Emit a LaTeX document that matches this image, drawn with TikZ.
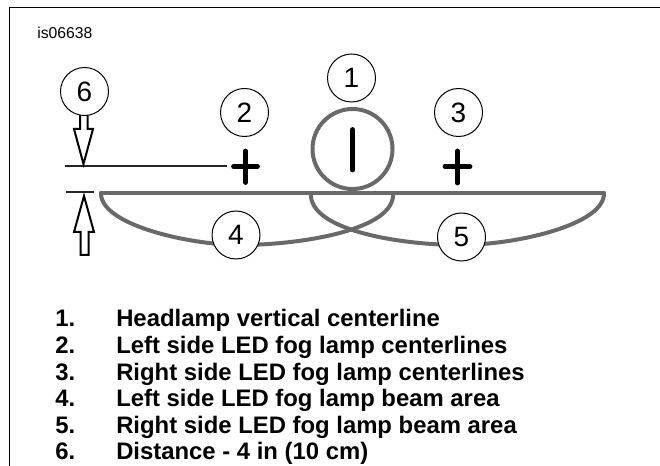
\documentclass[tikz,border=0pt]{standalone}
\usepackage{fontspec}
\setmainfont{Liberation Sans}
\definecolor{beam}{RGB}{105,105,105}
\tikzset{
 callout/.style={circle,draw=black,line width=0.75pt,fill=white,minimum size=36pt,inner sep=0pt,font=\fontsize{21}{24}\selectfont},
 beamline/.style={draw=beam,line width=3pt,line join=round,line cap=round},
 markline/.style={draw=black,line width=3.6pt,line cap=round},
 thinrule/.style={draw=black!85,line width=1.1pt},
 hollowarrow/.style={draw=black,line width=1.5pt,fill=white,line join=miter},
 legendtext/.style={anchor=base west,inner sep=0pt,font=\bfseries\fontsize{17.9}{20}\selectfont},
 figid/.style={anchor=base west,inner sep=0pt,font=\fontsize{11.8}{14}\selectfont}
}
\begin{document}
\begin{tikzpicture}[x=0.75pt,y=-0.75pt]
\useasboundingbox (0,0) rectangle (660,466);
\coordinate (bl) at (9.5,466); \coordinate (tl) at (9.5,7.5); \coordinate (tr) at (660,7.5);
\draw[black,line width=0.9pt] (bl) -- (tl) -- (tr);
\node[figid] (isn) at (37,39) {is06638};
% beam areas
\coordinate (beamL) at (101,193); \coordinate (beamR) at (604,193);
\coordinate (beamLi) at (393,193); \coordinate (beamRi) at (311,193);
\draw[beamline] (beamL) .. controls (100,225) and (190,245) .. (240,245) .. controls (300,245) and (396,230) .. (beamLi);
\draw[beamline] (beamR) .. controls (605,225) and (515,245) .. (460,245) .. controls (400,245) and (308,230) .. (beamRi);
\draw[beamline] (beamL) -- (beamR);
% headlamp
\node[circle,draw=beam,line width=3pt,minimum size=60pt,inner sep=0pt] (lamp) at (352.5,149) {};
\coordinate (vt) at (352.7,129.5); \coordinate (vb) at (352.7,170);
\draw[markline] (vt) -- (vb);
% plus marks
\coordinate (p2t) at (245.5,151); \coordinate (p2b) at (245.5,182.5);
\coordinate (p2l) at (233.5,166.5); \coordinate (p2r) at (257.5,166.5);
\draw[markline] (p2t) -- (p2b) (p2l) -- (p2r);
\coordinate (p3t) at (457.5,151); \coordinate (p3b) at (457.5,183);
\coordinate (p3l) at (445,166.5); \coordinate (p3r) at (470,166.5);
\draw[markline] (p3t) -- (p3b) (p3l) -- (p3r);
% dimension
\coordinate (r1a) at (65,166); \coordinate (r1b) at (227,166);
\coordinate (r2a) at (66,192); \coordinate (r2b) at (94,192);
\draw[thinrule] (r1a) -- (r1b);
\draw[thinrule] (r2a) -- (r2b);
\draw[hollowarrow] (80,115) -- (80,129) -- (74,129) -- (83.5,164) -- (93,129) -- (87.5,129) -- (87.5,115);
\draw[hollowarrow] (80.5,255) -- (80.5,232) -- (74,232) -- (84,196) -- (94,232) -- (88.5,232) -- (88.5,255) -- cycle;
% callouts
\node[callout] (c6) at (84.5,91.5) {6};
\node[callout] (c2) at (244.5,112.5) {2};
\node[callout] (c1) at (351.5,78) {1};
\node[callout] (c3) at (458.5,112.5) {3};
\node[callout] (c4) at (236,235) {4};
\node[callout] (c5) at (461.5,237) {5};
% legend
\node[legendtext] (n1) at (55,327) {1.}; \node[legendtext] (t1) at (116,327) {Headlamp vertical centerline};
\node[legendtext] (n2) at (55,353.5) {2.}; \node[legendtext] (t2) at (116,353.5) {Left side LED fog lamp centerlines};
\node[legendtext] (n3) at (55,380) {3.}; \node[legendtext] (t3) at (116,380) {Right side LED fog lamp centerlines};
\node[legendtext] (n4) at (55,406.5) {4.}; \node[legendtext] (t4) at (116,406.5) {Left side LED fog lamp beam area};
\node[legendtext] (n5) at (55,433) {5.}; \node[legendtext] (t5) at (116,433) {Right side LED fog lamp beam area};
\node[legendtext] (n6) at (55,459) {6.}; \node[legendtext] (t6) at (116,459) {Distance - 4 in (10 cm)};
\end{tikzpicture}
\end{document}
